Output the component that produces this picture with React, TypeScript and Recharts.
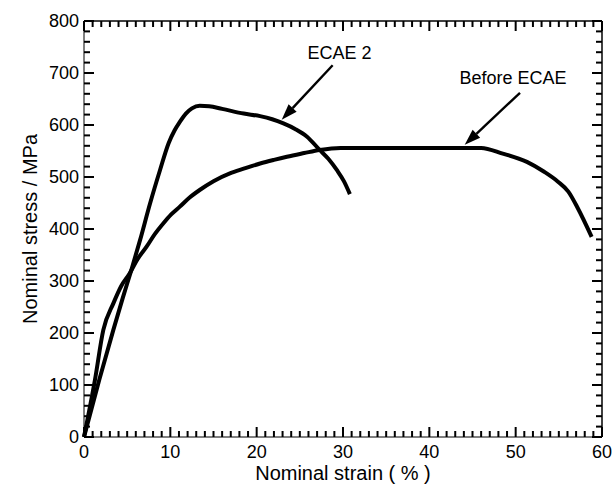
import React from "react";
import { LineChart, Line, XAxis, YAxis, ReferenceLine, ReferenceDot } from "recharts";

// strain (%) vs nominal stress (MPa)
const beforeEcae = [
  { x: 0, y: 0 }, { x: 1.27, y: 110 }, { x: 2.24, y: 206 }, { x: 3.4, y: 257 },
  { x: 4.3, y: 290 }, { x: 5.3, y: 315 }, { x: 6.2, y: 342 }, { x: 7.25, y: 366 },
  { x: 8.2, y: 390 }, { x: 9.2, y: 411 }, { x: 10.1, y: 428 }, { x: 11.1, y: 443 },
  { x: 12.2, y: 460 }, { x: 13.4, y: 475 }, { x: 15, y: 492 }, { x: 16.9, y: 507 },
  { x: 18.5, y: 516 }, { x: 20.4, y: 526 }, { x: 22, y: 533 }, { x: 23.5, y: 539 },
  { x: 25.5, y: 546 }, { x: 27.3, y: 552 }, { x: 29.7, y: 556 }, { x: 35, y: 556 },
  { x: 40, y: 556 }, { x: 46, y: 556 }, { x: 48.5, y: 545 }, { x: 51.3, y: 529 },
  { x: 53.3, y: 510 }, { x: 54.9, y: 491 }, { x: 56.1, y: 472 }, { x: 57.2, y: 440 },
  { x: 58.8, y: 385 },
];

const ecae2 = [
  { x: 0, y: 0 }, { x: 1.77, y: 110 }, { x: 3.4, y: 206 }, { x: 4.5, y: 268 },
  { x: 5.5, y: 322 }, { x: 6.5, y: 379 }, { x: 7.65, y: 449 }, { x: 8.8, y: 513 },
  { x: 9.8, y: 565 }, { x: 10.5, y: 590 }, { x: 11.1, y: 606 }, { x: 11.8, y: 622 },
  { x: 12.5, y: 632 }, { x: 13.4, y: 637 }, { x: 14.5, y: 636 }, { x: 16, y: 631 },
  { x: 18.5, y: 622 }, { x: 20.4, y: 617 }, { x: 21.8, y: 611 }, { x: 23.1, y: 603 },
  { x: 24.5, y: 592 }, { x: 25.8, y: 578 }, { x: 27.3, y: 552 }, { x: 28.3, y: 535 },
  { x: 29.3, y: 513 }, { x: 30.1, y: 492 }, { x: 30.8, y: 467 },
];

const xMajor = [0, 10, 20, 30, 40, 50, 60];
const yMajor = [0, 100, 200, 300, 400, 500, 600, 700, 800];
const xMinor = Array.from({ length: 61 }, (_, i) => i).filter(v => !xMajor.includes(v));
const yMinor = Array.from({ length: 41 }, (_, i) => i * 20).filter(v => !yMajor.includes(v));

const labels = [
  { text: "ECAE 2", x: 29.6, y: 739 },
  { text: "Before ECAE", x: 49.7, y: 691 },
];
const arrows = [
  { from: { x: 28.8, y: 715 }, to: { x: 22.9, y: 610 } },
  { from: { x: 50.5, y: 662 }, to: { x: 44.1, y: 562 } },
];

const W = 615;
const H = 490;
const MARGIN = { top: 21, right: 13, bottom: 0, left: 0 };
const FONT = "'Liberation Sans', Arial, Helvetica, sans-serif";
const MAJOR = 10;
const MINOR = 6;
const TICK_W = 2;

function BottomLabel({ x, y, payload }: any) {
  return (
    <text x={x} y={y + 21} textAnchor="middle" fontSize={18} fontFamily={FONT} fill="#000">
      {payload.value}
    </text>
  );
}

function LeftLabel({ x, y, payload }: any) {
  return (
    <text x={x - 5} y={y + 6} textAnchor="end" fontSize={18} fontFamily={FONT} fill="#000">
      {payload.value}
    </text>
  );
}

// inward tick on the bottom frame, mirrored on the top frame
const xTickShape = (len: number) => (p: any) => (
  <g>
    <line x1={p.cx} y1={p.cy} x2={p.cx} y2={p.cy - len} stroke="#000" strokeWidth={TICK_W} />
    <line x1={p.cx} y1={MARGIN.top} x2={p.cx} y2={MARGIN.top + len} stroke="#000" strokeWidth={TICK_W} />
  </g>
);

// inward tick on the left frame, mirrored on the right frame
const yTickShape = (len: number) => (p: any) => {
  const right = W - MARGIN.right;
  return (
    <g>
      <line x1={p.cx} y1={p.cy} x2={p.cx + len} y2={p.cy} stroke="#000" strokeWidth={TICK_W} />
      <line x1={right} y1={p.cy} x2={right - len} y2={p.cy} stroke="#000" strokeWidth={TICK_W} />
    </g>
  );
};

function Arrow(props: any) {
  const { x1, y1, x2, y2 } = props;
  const ang = Math.atan2(y2 - y1, x2 - x1);
  const len = 16;
  const half = 5.5;
  const bx = x2 - len * Math.cos(ang);
  const by = y2 - len * Math.sin(ang);
  const px = -Math.sin(ang) * half;
  const py = Math.cos(ang) * half;
  return (
    <g>
      <line x1={x1} y1={y1} x2={bx} y2={by} stroke="#000" strokeWidth={2.4} />
      <polygon points={`${x2},${y2} ${bx + px},${by + py} ${bx - px},${by - py}`} fill="#000" />
    </g>
  );
}

const titleStyle: React.CSSProperties = {
  position: "absolute", fontFamily: FONT, fontSize: 20, color: "#000", whiteSpace: "nowrap",
  lineHeight: "18px",
};

export default function App() {
  return (
    <div style={{ position: "absolute", left: 0, top: 0, width: W, height: H, background: "#fff" }}>
      <LineChart width={W} height={H} margin={MARGIN}>
        <XAxis
          type="number" dataKey="x" domain={[0, 60]} ticks={xMajor} interval={0}
          height={53} tickSize={0} tickMargin={0} tick={<BottomLabel />} stroke="#000"
        />
        <YAxis
          type="number" domain={[0, 800]} ticks={yMajor} interval={0} width={84}
          tickSize={0} tickMargin={0} tick={<LeftLabel />} stroke="#000"
        />
        <ReferenceLine y={800} stroke="#000" strokeWidth={1.5} ifOverflow="visible" />
        <ReferenceLine x={60} stroke="#000" strokeWidth={1.5} ifOverflow="visible" />
        {xMajor.map(v => (
          <ReferenceDot key={`xM${v}`} x={v} y={0} r={0} ifOverflow="visible" shape={xTickShape(MAJOR)} />
        ))}
        {xMinor.map(v => (
          <ReferenceDot key={`xm${v}`} x={v} y={0} r={0} ifOverflow="visible" shape={xTickShape(MINOR)} />
        ))}
        {yMajor.map(v => (
          <ReferenceDot key={`yM${v}`} x={0} y={v} r={0} ifOverflow="visible" shape={yTickShape(MAJOR)} />
        ))}
        {yMinor.map(v => (
          <ReferenceDot key={`ym${v}`} x={0} y={v} r={0} ifOverflow="visible" shape={yTickShape(MINOR)} />
        ))}
        <Line data={beforeEcae} dataKey="y" type="monotone" stroke="#000" strokeWidth={4}
          dot={false} isAnimationActive={false} />
        <Line data={ecae2} dataKey="y" type="monotone" stroke="#000" strokeWidth={4}
          dot={false} isAnimationActive={false} />
        {arrows.map((a, i) => (
          <ReferenceLine key={i} segment={[a.from, a.to]} shape={<Arrow />} ifOverflow="visible" />
        ))}
        {labels.map((l, i) => (
          <ReferenceDot key={i} x={l.x} y={l.y} r={0} ifOverflow="visible"
            shape={(p: any) => (
              <text x={p.cx} y={p.cy} textAnchor="middle" dominantBaseline="central"
                fontSize={18} fontFamily={FONT} fill="#000">
                {l.text}
              </text>
            )}
          />
        ))}
      </LineChart>
      <div style={{ ...titleStyle, left: 84, width: 518, top: 464, textAlign: "center" }}>
        Nominal strain ( % )
      </div>
      <div style={{ ...titleStyle, left: 30, top: 229, width: 0, height: 0 }}>
        <div style={{
          position: "absolute", left: 0, top: 0, transform: "translate(-50%, -50%) rotate(-90deg)",
        }}>
          Nominal stress / MPa
        </div>
      </div>
    </div>
  );
}
